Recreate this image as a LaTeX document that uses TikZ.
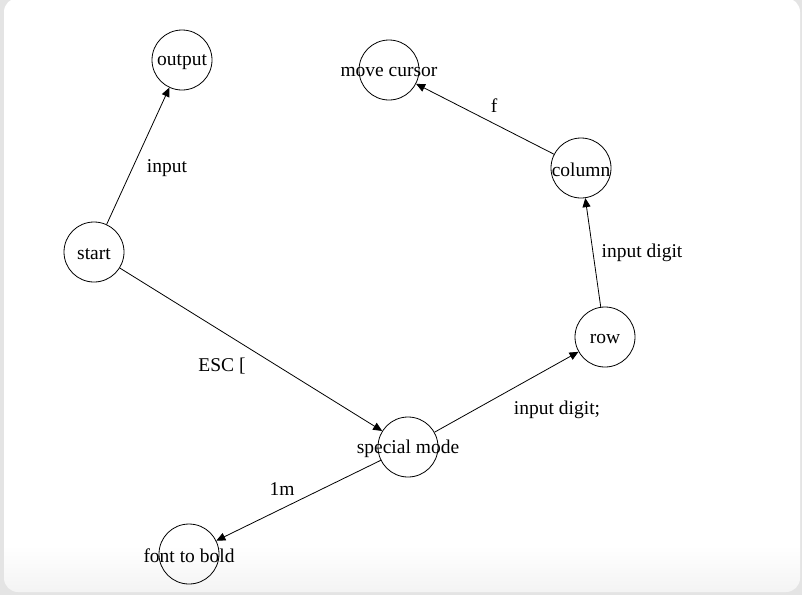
\documentclass[tikz,border=0pt]{standalone}
\usepackage{fontspec}
\setmainfont{Liberation Serif}
\usetikzlibrary{arrows.meta}
\definecolor{framegrey}{HTML}{E4E4E4}
\definecolor{bottomgrey}{HTML}{F3F3F3}
\tikzset{
  state/.style={circle, draw=black, line width=0.8pt, minimum size=60pt, inner sep=0pt,
    label={[font=\fontsize{19.5}{20}\selectfont, inner sep=0pt, yshift=-2pt]center:#1}},
  edge/.style={draw=black, line width=0.8pt, -{Triangle[length=9pt,width=8pt]}},
  elabel/.style={font=\fontsize{19.5}{20}\selectfont, inner sep=0pt}
}
\begin{document}
\begin{tikzpicture}[x=1pt,y=-1pt]
\useasboundingbox (0,0) rectangle (802,595);
\fill[framegrey] (0,0) rectangle (802,595);
\begin{scope}
\clip[rounded corners=14pt] (4,-2) rectangle (800,592);
\fill[white] (0,0) rectangle (802,545);
\shade[top color=white, bottom color=bottomgrey] (0,545) rectangle (802,595);
\end{scope}
\node[state=output] (output) at (182,60) {};
\node[state=move cursor] (move) at (389,70) {};
\node[state=column] (column) at (581,168) {};
\node[state=start] (start) at (94,252) {};
\node[state=row] (row) at (605,337) {};
\node[state=special mode] (special) at (408,447) {};
\node[state=font to bold] (bold) at (189,554) {};
\path[edge] (start) -- (output);
\path[edge] (start) -- (special);
\path[edge] (special) -- (row);
\path[edge] (row) -- (column);
\path[edge] (column) -- (move);
\path[edge] (special) -- (bold);
\node[elabel] (l1) at (167,168) {input};
\node[elabel] (l2) at (222,366) {ESC [};
\node[elabel] (l3) at (557,410) {input digit;};
\node[elabel] (l4) at (642,253) {input digit};
\node[elabel] (l5) at (494,106) {f};
\node[elabel] (l6) at (282,489) {1m};
\end{tikzpicture}
\end{document}
